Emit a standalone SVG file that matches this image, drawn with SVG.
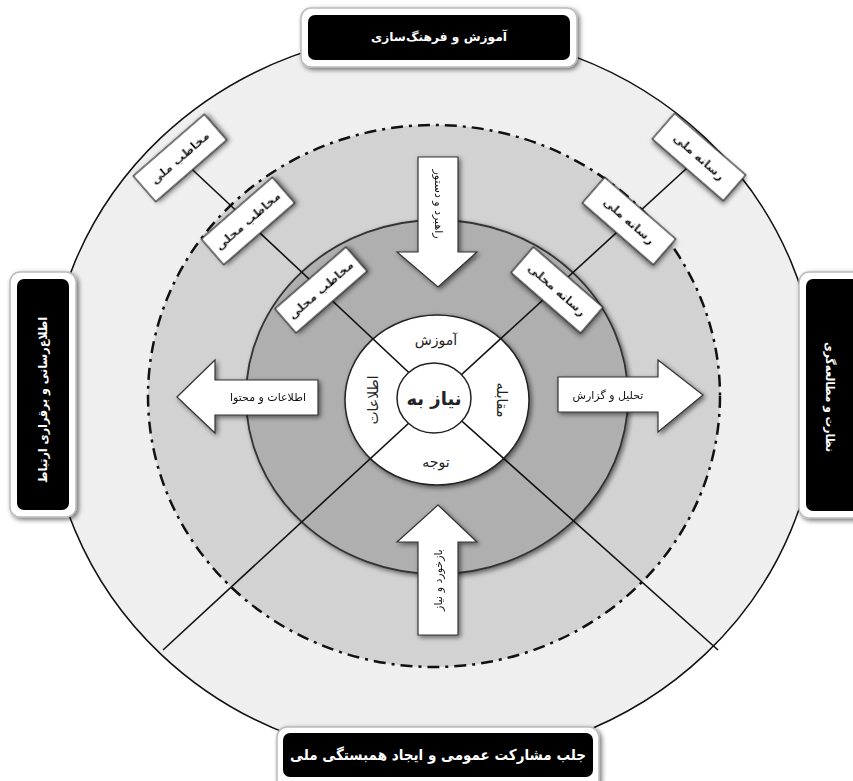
<svg xmlns="http://www.w3.org/2000/svg" width="853" height="781" viewBox="0 0 853 781">
<style>
text{font-family:"DejaVu Sans","Noto Sans",sans-serif;}
.lbl{fill:#fff;font-weight:bold;text-anchor:middle;dominant-baseline:central;}
.frame{fill:#fff;stroke:#bbb;stroke-width:1.5;}
.blk{fill:#000;}
.box rect{fill:#fff;stroke:#222;stroke-width:1.2;}
.bt{font-size:12px;font-weight:bold;fill:#111;text-anchor:middle;dominant-baseline:central;}
.arrow{fill:#fff;stroke:#333;stroke-width:1.2;}
.at{font-size:11px;fill:#111;text-anchor:middle;dominant-baseline:central;}
.conn line{stroke:#111;stroke-width:1.6;}
.ct{font-size:14px;fill:#222;text-anchor:middle;dominant-baseline:central;}
</style>
<defs>
<filter id="sh" x="-30%" y="-30%" width="160%" height="160%">
<feGaussianBlur in="SourceAlpha" stdDeviation="2.5"/>
<feOffset dx="2" dy="2"/>
<feComponentTransfer><feFuncA type="linear" slope="0.55"/></feComponentTransfer>
<feMerge><feMergeNode/><feMergeNode in="SourceGraphic"/></feMerge>
</filter>
</defs>
<rect width="853" height="781" fill="#fff"/>
<g id="rings">
<ellipse cx="433" cy="396" rx="385" ry="365" fill="#efefef" stroke="#111" stroke-width="1.5"/>
<ellipse cx="434" cy="396" rx="286" ry="271" fill="#d2d2d2" stroke="#111" stroke-width="2.5" stroke-dasharray="12 6 3 6"/>
<ellipse cx="437" cy="397" rx="191" ry="177" fill="#afafaf" stroke="#333" stroke-width="1.8" filter="url(#sh)"/>
<ellipse cx="437" cy="400" rx="92" ry="85" fill="#fff" stroke="#222" stroke-width="1.5" filter="url(#sh)"/>
</g>
<g id="connectors" class="conn">
<line x1="436" y1="398" x2="180" y2="158"/>
<line x1="436" y1="398" x2="699" y2="157"/>
<line x1="436" y1="398" x2="163" y2="650"/>
<line x1="436" y1="398" x2="718" y2="650"/>
</g>
<g id="center">
<ellipse cx="434" cy="398" rx="37" ry="35" fill="#fff" stroke="#222" stroke-width="1.5"/>
<text class="ct" x="434" y="398" style="font-size:18px;font-weight:bold">نیاز به</text>
</g>
<g id="seg-top"><text class="ct" x="436" y="340">آموزش</text></g>
<g id="seg-bottom"><text class="ct" x="436" y="462">توجه</text></g>
<g id="seg-left"><text class="ct" transform="translate(373,400) rotate(-90)">اطلاعات</text></g>
<g id="seg-right"><text class="ct" transform="translate(502,400) rotate(90)">مقابله</text></g>

<g id="box-l1" class="box" transform="translate(180,158) rotate(-41)" filter="url(#sh)"><rect x="-47" y="-17" width="94" height="34"/><text class="bt">مخاطب ملی</text></g>
<g id="box-l2" class="box" transform="translate(248,221) rotate(-41)" filter="url(#sh)"><rect x="-47" y="-17" width="94" height="34"/><text class="bt">مخاطب محلی</text></g>
<g id="box-l3" class="box" transform="translate(321,290) rotate(-41)" filter="url(#sh)"><rect x="-47" y="-16" width="94" height="32"/><text class="bt">مخاطب محلی</text></g>
<g id="box-r1" class="box" transform="translate(699,157) rotate(41)" filter="url(#sh)"><rect x="-47" y="-17" width="94" height="34"/><text class="bt">رسانه ملی</text></g>
<g id="box-r2" class="box" transform="translate(629,221) rotate(41)" filter="url(#sh)"><rect x="-47" y="-17" width="94" height="34"/><text class="bt">رسانه ملی</text></g>
<g id="box-r3" class="box" transform="translate(557,290) rotate(41)" filter="url(#sh)"><rect x="-46" y="-17" width="92" height="34"/><text class="bt">رسانه محلی</text></g>

<g id="arrow-down" filter="url(#sh)"><polygon class="arrow" points="418,157 458,157 458,252 477,252 438,287 397,252 418,252"/><text class="at" transform="translate(438,204) rotate(90)">راهبرد و دستور</text></g>
<g id="arrow-up" filter="url(#sh)"><polygon class="arrow" points="438,505 477,542 458,542 458,635 418,635 418,542 397,542"/><text class="at" transform="translate(438,580) rotate(-90)">بازخورد و نیاز</text></g>
<g id="arrow-left" filter="url(#sh)"><polygon class="arrow" points="177,397 215,360 215,380 318,380 318,415 215,415 215,433"/><text class="at" x="268" y="397">اطلاعات و محتوا</text></g>
<g id="arrow-right" filter="url(#sh)"><polygon class="arrow" points="558,377 658,377 658,360 703,395 658,432 658,412 558,412"/><text class="at" x="608" y="395">تحلیل و گزارش</text></g>

<g id="label-top"><rect class="frame" x="301" y="8" width="276" height="59" rx="10" filter="url(#sh)"/><rect class="blk" x="308" y="15" width="262" height="45" rx="7"/><text class="lbl" x="439" y="37" font-size="12" textLength="136" lengthAdjust="spacingAndGlyphs">آموزش و فرهنگ‌سازی</text></g>
<g id="label-left"><rect class="frame" x="10" y="272" width="66" height="245" rx="10" filter="url(#sh)"/><rect class="blk" x="17" y="279" width="52" height="231" rx="7"/><text class="lbl" transform="translate(43,400) rotate(-90)" font-size="12" textLength="166" lengthAdjust="spacingAndGlyphs">اطلاع‌رسانی و برقراری ارتباط</text></g>
<g id="label-right"><rect class="frame" x="799" y="272" width="70" height="246" rx="10" filter="url(#sh)"/><rect class="blk" x="806" y="279" width="60" height="232" rx="7"/><text class="lbl" transform="translate(830,397) rotate(90)" font-size="12" textLength="110" lengthAdjust="spacingAndGlyphs">نظارت و مطالعه‌گری</text></g>
<g id="label-bottom"><rect class="frame" x="277" y="727" width="322" height="64" rx="10" filter="url(#sh)"/><rect class="blk" x="283" y="733" width="310" height="44" rx="7"/><text class="lbl" x="438" y="755" font-size="15" textLength="296" lengthAdjust="spacingAndGlyphs">جلب مشارکت عمومی و ایجاد همبستگی ملی</text></g>
</svg>
